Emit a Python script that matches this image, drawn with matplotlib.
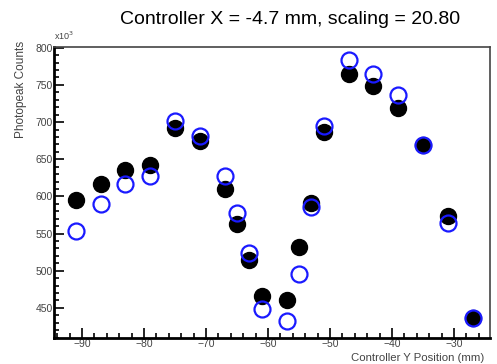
import numpy as np
import matplotlib
matplotlib.use("Agg")
import matplotlib.pyplot as plt
from matplotlib.ticker import MultipleLocator

plt.rcParams['font.family'] = ['Liberation Sans', 'DejaVu Sans']

# Controller Y position (mm)
ypos = [-91, -87, -83, -79, -75, -71, -67, -65, -63, -61,
        -57, -55, -53, -51, -47, -43, -39, -35, -31, -27]
# photopeak counts (x10^3)
counts_black = [595, 617, 636, 642, 692, 674, 610, 563, 515, 466,
                461, 532, 591, 687, 765, 749, 719, 669, 573, 436]
counts_blue = [554, 590, 617, 627, 701, 681, 627, 577, 524, 449,
               432, 495, 586, 695, 783, 765, 737, 669, 564, 436]

fig = plt.figure(figsize=(4.97, 3.64), dpi=100)
ax = fig.add_axes([54/497, 26/364, 436/497, 291/364])

ax.plot(ypos, counts_black, 'o', color='black', markersize=11.5, zorder=3)
ax.plot(ypos, counts_blue, 'o', markerfacecolor='none', markeredgecolor='#1a1aff',
        markeredgewidth=1.6, markersize=11.5, zorder=4)

ax.set_xlim(-94.5, -24.2)
ax.set_ylim(409.5, 801)
ax.xaxis.set_major_locator(MultipleLocator(10))
ax.xaxis.set_minor_locator(MultipleLocator(2))
ax.yaxis.set_major_locator(MultipleLocator(50))
ax.yaxis.set_minor_locator(MultipleLocator(10))
ax.set_yticks([450, 500, 550, 600, 650, 700, 750, 800])

ax.tick_params(which='both', direction='in', top=False, right=False,
               labelsize=7.5, labelcolor='#444444', width=1.2)
ax.tick_params(which='major', length=7)
ax.tick_params(which='minor', length=3.5)
ax.tick_params(axis='x', pad=1)
ax.tick_params(axis='y', pad=1)

ax.spines['left'].set_linewidth(2)
ax.spines['bottom'].set_linewidth(2)
ax.spines['top'].set_linewidth(1.2)
ax.spines['right'].set_linewidth(1.2)
ax.spines['top'].set_color('#444444')
ax.spines['right'].set_color('#444444')

fig.text(290/497, 1 - 19/364, "Controller X = -4.7 mm, scaling = 20.80",
         ha='center', va='center', fontsize=14)
fig.text(21/497, 1 - 41/364, "Photopeak Counts", rotation=90,
         ha='center', va='top', fontsize=8.5, color='#444444')
fig.text(351/497, 1 - 363/364, "Controller Y Position (mm)",
         ha='left', va='bottom', fontsize=8.2, color='#444444')
fig.text(54/497, 1 - 42/364, r"x10$^{3}$", ha='left', va='bottom',
         fontsize=6.5, color='#444444')

fig.savefig("out.png", dpi=100)
